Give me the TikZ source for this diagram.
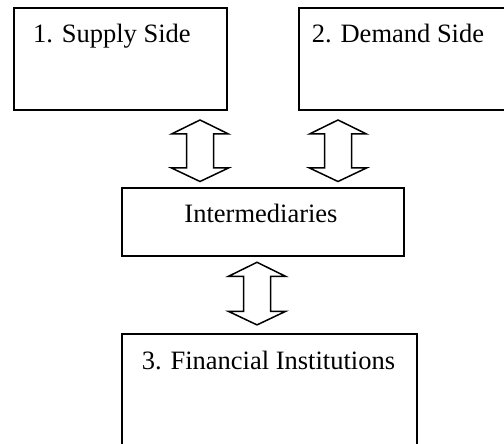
\documentclass[tikz,border=0pt]{standalone}
\usepackage{fontspec}
\setmainfont{Liberation Serif}
\usetikzlibrary{calc}

% Hollow two-headed block arrow between two named points (top tip, bottom tip)
\newcommand\hollowarrow[2]{%
  \draw[arrowline] let \p1=#1, \p2=#2 in
    (\x1,\y1) -- (\x1+28.5pt,\y1-14pt) -- (\x1+13.5pt,\y1-14pt)
    -- (\x1+13.5pt,\y2+13.5pt) -- (\x1+28.5pt,\y2+13.5pt) -- (\x1,\y2)
    -- (\x1-28.5pt,\y2+13.5pt) -- (\x1-13.5pt,\y2+13.5pt)
    -- (\x1-13.5pt,\y1-14pt) -- (\x1-28.5pt,\y1-14pt) -- cycle;}

\begin{document}
\begin{tikzpicture}[x=1pt,y=1pt,
  box/.style={draw, line width=1.8pt, rectangle, inner sep=0pt, anchor=south west},
  lbl/.style={anchor=base west, inner sep=0pt, font=\fontsize{26.5}{32}\selectfont},
  arrowline/.style={line width=1.5pt, line join=miter}]
\clip (0,0) rectangle (504,444);
\fill[white] (0,0) rectangle (504,444);

% boxes
\node[box, minimum width=213.3pt, minimum height=102pt] (sup) at (12.7,332.7) {};
\node[box, minimum width=230pt, minimum height=102pt] (dem) at (298,332.7) {};
\node[box, minimum width=282.6pt, minimum height=68.6pt] (int) at (120.7,186.7) {};
\node[box, minimum width=295.3pt, minimum height=150pt] (fin) at (120.7,-41) {};

% labels
\node[lbl] (supt) at (33,401) {1. Supply Side};
\node[lbl] (demt) at (311.7,401) {2. Demand Side};
\node[lbl, anchor=base] (intt) at (261,221) {Intermediaries};
\node[lbl] (fint) at (141.7,74) {3. Financial Institutions};

% arrow end points
\coordinate (a1t) at ($(sup.south west)+(187.3,-8.7)$);
\coordinate (a1b) at ($(int.north west)+(79.3,5.4)$);
\coordinate (a2t) at ($(dem.south west)+(40,-8.7)$);
\coordinate (a2b) at ($(int.north west)+(217.3,5.4)$);
\coordinate (a3t) at ($(int.south west)+(136.3,-5)$);
\coordinate (a3b) at ($(fin.north west)+(136.3,8.3)$);

\hollowarrow{(a1t)}{(a1b)}
\hollowarrow{(a2t)}{(a2b)}
\hollowarrow{(a3t)}{(a3b)}
\end{tikzpicture}
\end{document}
